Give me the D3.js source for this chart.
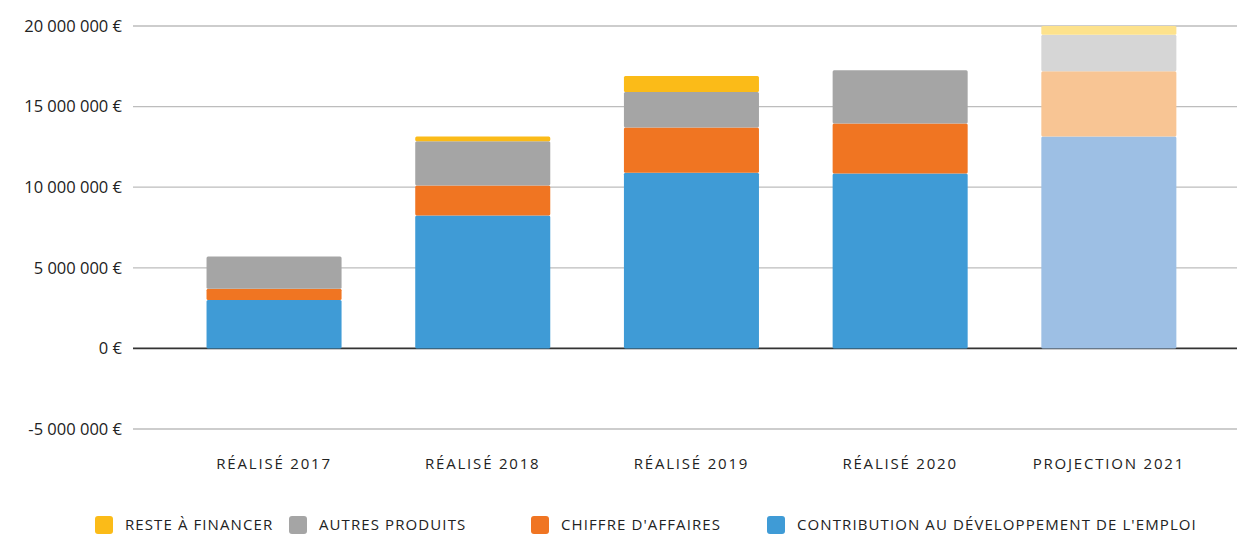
<!DOCTYPE html>
<html>
<head>
<meta charset="utf-8">
<script src="https://cdn.jsdelivr.net/npm/d3@7"></script>
<style>
  body { margin: 0; background: #fff; }
  text { font-family: "Open Sans", sans-serif; fill: #222; }
</style>
</head>
<body>
<div id="main"></div>
<script>
// Data
const categories = ["RÉALISÉ 2017", "RÉALISÉ 2018", "RÉALISÉ 2019", "RÉALISÉ 2020", "PROJECTION 2021"];
const contribution = [3.0, 8.25, 10.9, 10.85, 13.15];
const chiffreAffaires = [0.7, 1.85, 2.8, 3.1, 4.05];
const autresProduits = [2.0, 2.75, 2.2, 3.3, 2.25];
const resteAFinancer = [0, 0.3, 1.0, 0, 0.55];
const tickValues = [-5, 0, 5, 10, 15, 20];
const tickLabels = ["-5 000 000 €", "0 €", "5 000 000 €", "10 000 000 €", "15 000 000 €", "20 000 000 €"];

const seriesConfig = [
  { key: "contribution", label: "CONTRIBUTION AU DÉVELOPPEMENT DE L'EMPLOI", values: contribution, color: "#3f9bd6", light: "#9dbfe4" },
  { key: "ca", label: "CHIFFRE D'AFFAIRES", values: chiffreAffaires, color: "#f07522", light: "#f8c594" },
  { key: "autres", label: "AUTRES PRODUITS", values: autresProduits, color: "#a5a5a5", light: "#d6d6d6" },
  { key: "reste", label: "RESTE À FINANCER", values: resteAFinancer, color: "#fbbb18", light: "#fde28c" },
];

// Layout config
const width = 1237;
const height = 541;

const svg = d3.select("#main").append("svg")
  .attr("width", width)
  .attr("height", height);

const x = d3.scaleBand()
  .domain(categories)
  .range([169.7, 1213.2])
  .paddingInner(0.353)
  .paddingOuter(0.1765);

const y = d3.scaleLinear().domain([-5, 20]).range([429, 26]);

// Grid + y labels
const grid = svg.append("g");
grid.selectAll("line")
  .data(tickValues)
  .join("line")
  .attr("x1", 133)
  .attr("x2", width)
  .attr("y1", (d) => y(d))
  .attr("y2", (d) => y(d))
  .attr("stroke", (d) => (d === 0 ? "#333" : "#bdbdbd"))
  .attr("stroke-width", (d) => (d === 0 ? 1.6 : 1.3));

grid.selectAll("text")
  .data(tickValues)
  .join("text")
  .attr("x", 122)
  .attr("y", (d) => y(d))
  .attr("dy", "0.35em")
  .attr("text-anchor", "end")
  .attr("font-size", 16.5)
  .text((d, i) => tickLabels[i]);

// Stack
const table = categories.map((c, i) => {
  const row = { category: c };
  seriesConfig.forEach((s) => (row[s.key] = s.values[i]));
  return row;
});
const stacked = d3.stack().keys(seriesConfig.map((s) => s.key))(table);

const bars = svg.append("g");
stacked.forEach((layer, li) => {
  const cfg = seriesConfig[li];
  bars.append("g")
    .selectAll("rect")
    .data(layer.filter((d) => d[1] - d[0] > 0))
    .join("rect")
    .attr("x", (d) => x(d.data.category))
    .attr("width", x.bandwidth())
    .attr("y", (d) => y(d[1]))
    .attr("height", (d) => y(d[0]) - y(d[1]))
    .attr("rx", 1.5)
    .attr("fill", (d) => (d.data.category.startsWith("PROJECTION") ? cfg.light : cfg.color));
});

// x labels
svg.append("g")
  .selectAll("text")
  .data(categories)
  .join("text")
  .attr("x", (d) => x(d) + x.bandwidth() / 2)
  .attr("y", 464)
  .attr("dy", "0.35em")
  .attr("text-anchor", "middle")
  .attr("font-size", 15)
  .attr("letter-spacing", 1.8)
  .text((d) => d);

// Legend
const legendItems = seriesConfig.slice().reverse();
const legendX = [95, 289, 531, 767];
const legend = svg.append("g")
  .selectAll("g")
  .data(legendItems)
  .join("g")
  .attr("transform", (d, i) => `translate(${legendX[i]},525)`);

legend.append("rect")
  .attr("x", 0)
  .attr("y", -9)
  .attr("width", 18)
  .attr("height", 18)
  .attr("rx", 3)
  .attr("fill", (d) => d.color);

legend.append("text")
  .attr("x", 30)
  .attr("y", 0)
  .attr("dy", "0.35em")
  .attr("font-size", 15)
  .attr("letter-spacing", 1.1)
  .text((d) => d.label);
</script>
</body>
</html>
